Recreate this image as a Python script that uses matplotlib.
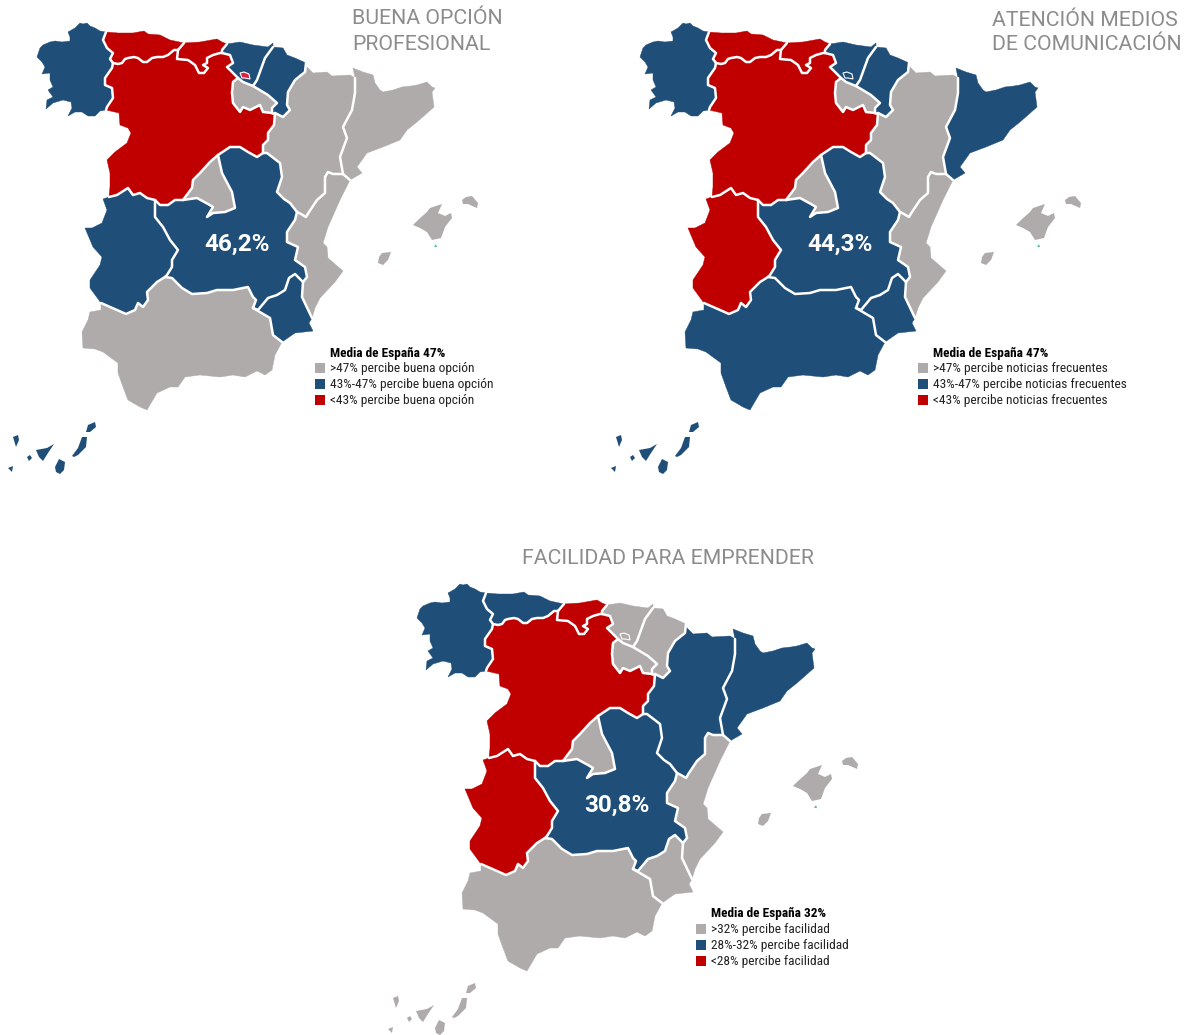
#!/usr/bin/env python3
import matplotlib
matplotlib.use('Agg')
import matplotlib.pyplot as plt
from matplotlib.patches import Polygon, Rectangle

GRAY = '#AFABAB'
BLUE = '#1F4E79'
RED = '#C00000'
COLORS = {'hi': GRAY, 'mid': BLUE, 'lo': RED}

# outlines, shared borders first, in reference pixels of the first map
gal_coast = [(106, 32), (100, 31), (95, 28), (90, 26), (87, 23), (83, 24), (80, 23), (75, 28), (68, 32), (70, 37), (70, 41),
             (62, 42), (55, 41), (50, 42), (43, 45), (40, 48), (37, 57), (42, 62), (45, 67), (42, 74), (50, 73), (50, 80),
             (53, 87), (48, 90), (53, 97), (47, 100), (46, 109), (53, 103), (63, 100), (71, 102), (72, 108), (68, 116),
             (75, 112), (82, 112), (88, 116), (95, 116), (100, 111), (106, 110)]
gal_cyl = [(106, 110), (107, 107), (113, 98), (112, 88), (105, 85), (105, 78), (112, 68), (113, 63)]
gal_ast = [(113, 63), (110, 59), (113, 53), (107, 48), (103, 40), (106, 32)]
ast_coast = [(106, 32), (118, 33), (133, 33), (144, 31), (148, 34), (160, 35), (170, 40), (184, 43)]
ast_cyl = [(113, 63), (118, 64), (122, 63), (125, 59), (128, 58), (134, 57), (138, 58), (143, 62), (147, 62), (152, 58), (157, 57),
           (163, 57), (168, 55), (174, 50), (178, 50)]
ast_cant = [(178, 50), (184, 43)]
cant_coast = [(184, 43), (200, 42), (217, 39), (222, 42), (227, 44)]
cant_pv = [(227, 44), (222, 50), (222, 53)]
cant_cyl = [(178, 50), (177, 59), (188, 60), (195, 65), (199, 73), (204, 73), (208, 68), (203, 65), (207, 63), (207, 58),
            (213, 55), (220, 53), (222, 53)]
pv_cyl = [(222, 53), (230, 55), (233, 63), (227, 67), (232, 72), (238, 78)]
pv_coast = [(227, 44), (240, 42), (253, 45), (268, 47), (273, 43), (273, 47)]
pv_nav = [(273, 47), (265, 58), (257, 80), (253, 86)]
rioja_pv = [(238, 78), (243, 82), (253, 86)]
rioja_nav = [(253, 86), (268, 95), (277, 103), (272, 108), (272, 113)]
rioja_cyl = [(238, 78), (233, 82), (232, 93), (233, 103), (240, 112), (243, 107), (250, 110), (260, 105), (263, 112), (272, 113)]
cyl_nav = [(272, 113), (275, 113)]
nav_coast = [(273, 47), (283, 48), (287, 55), (295, 58), (306, 63)]
nav_ara = [(306, 63), (305, 72), (295, 80), (288, 92), (287, 105), (290, 110), (283, 117), (275, 113)]
ara_north = [(355, 78), (350, 75), (332, 76), (327, 72), (313, 73), (307, 67), (306, 63)]
ara_cyl = [(275, 113), (274, 125), (268, 133), (268, 140), (263, 145), (263, 153)]
ara_clm = [(263, 153), (267, 153), (280, 163), (282, 177), (277, 192), (284, 199), (290, 203), (297, 212)]
ara_val = [(297, 212), (301, 214), (306, 217), (309, 212), (317, 200), (325, 193), (325, 177), (328, 172), (333, 174), (343, 174)]
ara_cat = [(343, 174), (340, 157), (347, 138), (343, 127), (352, 110), (355, 93), (355, 78)]
cat_coast = [(355, 78), (353, 68), (363, 72), (373, 75), (375, 83), (380, 90), (383, 92), (393, 90), (402, 87), (411, 86), (417, 85),
             (427, 82), (432, 87), (435, 88), (432, 92), (434, 107), (425, 115), (417, 122), (407, 130), (400, 140), (383, 147),
             (367, 153), (357, 167), (362, 173), (350, 180)]
cat_val = [(350, 180), (343, 174)]
val_coast = [(350, 180), (340, 200), (328, 227), (323, 243), (327, 247), (328, 258), (343, 271), (335, 282), (320, 298),
             (315, 308), (312, 318)]
val_mur = [(312, 318), (302, 297), (303, 282)]
val_clm = [(297, 212), (295, 220), (287, 232), (287, 242), (298, 247), (295, 260), (305, 267), (307, 277), (303, 282)]
mur_clm = [(303, 282), (295, 274), (289, 278), (285, 290), (277, 295), (268, 298), (258, 310), (253, 308)]
mur_coast = [(282, 342), (295, 333), (313, 331), (309, 323), (312, 318)]
and_mur = [(253, 308), (270, 318), (273, 335), (282, 342)]
and_clm = [(253, 308), (256, 300), (253, 297), (248, 287), (233, 290), (217, 290), (207, 293), (192, 294), (182, 288), (172, 278), (165, 277)]
and_coast = [(282, 342), (275, 355), (272, 370), (265, 375), (257, 371), (245, 377), (233, 375), (220, 377), (200, 375),
             (185, 377), (178, 387), (170, 387), (157, 393), (147, 410), (140, 407), (128, 400), (123, 387), (118, 373),
             (118, 363), (103, 352), (95, 349), (83, 348), (82, 332), (88, 320), (90, 312), (101, 310), (101, 303)]
ext_and = [(165, 277), (157, 282), (147, 292), (148, 300), (143, 307), (138, 303), (135, 310), (126, 314), (117, 310), (101, 303)]
ext_coast = [(101, 303), (90, 288), (90, 280), (100, 265), (102, 257), (93, 247), (85, 228), (92, 228), (102, 223), (107, 210),
             (103, 199), (109, 197)]
ext_cyl = [(109, 197), (117, 195), (128, 188), (133, 195), (140, 193), (147, 198), (155, 200)]
ext_clm = [(155, 200), (155, 217), (163, 227), (170, 240), (178, 250), (172, 260), (172, 267), (167, 275), (165, 277)]
cyl_clm = [(155, 200), (160, 205), (168, 205), (175, 200), (183, 200)]
cyl_mad = [(183, 200), (192, 188), (193, 180), (200, 173), (210, 162), (218, 155)]
cyl_clm2 = [(218, 155), (230, 147), (240, 147), (248, 152), (257, 157), (263, 153)]
mad_clm = [(218, 155), (222, 173), (232, 192), (235, 208), (225, 212), (213, 213), (207, 217), (213, 207), (208, 204), (197, 198), (183, 200)]
cyl_port = [(109, 197), (110, 187), (110, 173), (107, 160), (115, 152), (127, 143), (131, 133), (128, 128), (120, 125), (119, 113), (106, 110)]

borders = [gal_cyl, gal_ast, ast_cyl, ast_cant, cant_pv, cant_cyl, pv_cyl, pv_nav, rioja_pv, rioja_nav, rioja_cyl, cyl_nav,
           nav_ara, ara_cyl, ara_clm, ara_val, ara_cat, cat_val, val_mur, val_clm, mur_clm, and_mur, and_clm, ext_and,
           ext_cyl, ext_clm, cyl_clm, cyl_mad, cyl_clm2, mad_clm]

mallorca = [(413, 225), (418, 220), (427, 212), (430, 208), (442, 204), (438, 213), (445, 216), (451, 213), (452, 218), (445, 227),
            (441, 238), (432, 240), (427, 232), (420, 228)]
menorca = [(462, 200), (466, 197), (472, 196), (478, 203), (477, 208), (468, 204), (463, 204)]
ibiza = [(378, 263), (379, 257), (382, 253), (391, 252), (388, 260), (383, 265)]
formentera = [(434, 247), (436, 244), (437, 247)]
lanzarote = [(86, 432), (88, 425), (95, 422), (96, 427), (90, 432)]
fuerteventura = [(72, 456), (78, 448), (82, 437), (87, 437), (86, 447), (78, 455), (74, 457)]
gran_canaria = [(55, 467), (59, 459), (65, 462), (64, 470), (60, 474), (56, 472)]
tenerife = [(36, 450), (47, 448), (54, 444), (48, 453), (43, 461), (39, 457)]
gomera = [(27, 457), (30, 455), (32, 458), (29, 461)]
la_palma = [(13, 437), (18, 435), (19, 440), (16, 447)]
hierro = [(8, 468), (13, 466), (12, 472)]
trevino = [(240, 73), (244, 72), (249, 74), (250, 79), (245, 78), (242, 78)]

# region name -> arcs that close its outline
regions = {
    'galicia': [gal_coast, gal_cyl, gal_ast],
    'asturias': [ast_coast, ast_cant, ast_cyl, gal_ast],
    'cantabria': [cant_coast, cant_pv, cant_cyl, ast_cant],
    'pais_vasco': [pv_coast, pv_nav, rioja_pv, pv_cyl, cant_pv],
    'navarra': [nav_coast, nav_ara, cyl_nav, rioja_nav, pv_nav],
    'rioja': [rioja_pv, rioja_nav, rioja_cyl],
    'aragon': [ara_north, nav_ara, ara_cyl, ara_clm, ara_val, ara_cat],
    'cataluna': [cat_coast, cat_val, ara_cat],
    'valencia': [val_coast, val_mur, val_clm, ara_val, cat_val],
    'murcia': [mur_coast, val_mur, mur_clm, and_mur],
    'andalucia': [and_mur, and_coast, ext_and, and_clm],
    'extremadura': [ext_coast, ext_cyl, ext_clm, ext_and],
    'madrid': [mad_clm, cyl_mad],
    'clm': [cyl_clm, mad_clm, cyl_clm2, ara_clm, val_clm, mur_clm, and_clm, ext_clm],
    'cyl': [cyl_port, gal_cyl, ast_cyl, cant_cyl, pv_cyl, rioja_cyl, cyl_nav, ara_cyl, cyl_clm2, cyl_mad, cyl_clm, ext_cyl],
}
baleares = [mallorca, menorca, ibiza]
canarias = [lanzarote, fuerteventura, gran_canaria, tenerife, gomera, la_palma, hierro]

# group of each region in the three maps
buena_opcion = {'galicia': 'mid', 'asturias': 'lo', 'cantabria': 'lo', 'pais_vasco': 'mid', 'navarra': 'mid', 'rioja': 'hi',
                'aragon': 'hi', 'cataluna': 'hi', 'valencia': 'hi', 'murcia': 'mid', 'andalucia': 'hi', 'extremadura': 'mid',
                'madrid': 'hi', 'clm': 'mid', 'cyl': 'lo', 'baleares': 'hi', 'canarias': 'mid'}
noticias = {'galicia': 'mid', 'asturias': 'lo', 'cantabria': 'lo', 'pais_vasco': 'mid', 'navarra': 'mid', 'rioja': 'hi',
            'aragon': 'hi', 'cataluna': 'mid', 'valencia': 'hi', 'murcia': 'mid', 'andalucia': 'mid', 'extremadura': 'lo',
            'madrid': 'hi', 'clm': 'mid', 'cyl': 'lo', 'baleares': 'hi', 'canarias': 'mid'}
facilidad = {'galicia': 'mid', 'asturias': 'mid', 'cantabria': 'lo', 'pais_vasco': 'hi', 'navarra': 'hi', 'rioja': 'hi',
             'aragon': 'mid', 'cataluna': 'mid', 'valencia': 'hi', 'murcia': 'hi', 'andalucia': 'hi', 'extremadura': 'lo',
             'madrid': 'hi', 'clm': 'mid', 'cyl': 'lo', 'baleares': 'hi', 'canarias': 'hi'}

map_groups = [buena_opcion, noticias, facilidad]
map_shift = [(0, 0), (603, 0), (380, 561)]
map_values = ['46,2%', '44,3%', '30,8%']
legend_titles = ['Media de España 47%', 'Media de España 47%', 'Media de España 32%']
legend_labels = [['>47% percibe buena opción', '43%-47% percibe buena opción', '<43% percibe buena opción'],
                 ['>47% percibe noticias frecuentes', '43%-47% percibe noticias frecuentes', '<43% percibe noticias frecuentes'],
                 ['>32% percibe facilidad', '28%-32% percibe facilidad', '<28% percibe facilidad']]
legend_shift = [(0, 0), (603, 0), (381, 561)]
trevino_colors = ['#DC2040', BLUE, GRAY]


def ring(arcs):
    '''Joins arcs end to end, turning an arc round when needed.'''
    pts = list(arcs[0])
    if pts[-1] not in (arcs[1][0], arcs[1][-1]):
        pts.reverse()
    for arc in arcs[1:]:
        pts += list(arc) if arc[0] == pts[-1] else list(arc[::-1])
    return pts


def moved(pts, shift):
    return [(x + shift[0], y + shift[1]) for x, y in pts]


def draw_map(ax, n):
    groups = map_groups[n]
    shift = map_shift[n]
    for name, arcs in regions.items():
        ax.add_patch(Polygon(moved(ring(arcs), shift), closed=True, fc=COLORS[groups[name]], ec=COLORS[groups[name]], lw=0.3))
    for shape in baleares:
        ax.add_patch(Polygon(moved(shape, shift), closed=True, fc=COLORS[groups['baleares']], ec='none'))
    ax.add_patch(Polygon(moved(formentera, shift), closed=True, fc='#4FBFA5', ec='none'))
    for shape in canarias:
        ax.add_patch(Polygon(moved(shape, shift), closed=True, fc=COLORS[groups['canarias']], ec='none'))
    for arc in borders:
        x, y = zip(*moved(arc, shift))
        ax.plot(x, y, color='white', lw=1.8, solid_joinstyle='round', solid_capstyle='round')
    ax.add_patch(Polygon(moved(trevino, shift), closed=True, fc=trevino_colors[n], ec='white', lw=0.8))
    ax.text(237 + shift[0], 244 + shift[1], map_values[n], color='white', fontsize=17.5, fontweight='bold', family='Roboto',
            ha='center', va='center')


def draw_legend(ax, n):
    sx, sy = legend_shift[n]
    ax.text(330 + sx, 353 + sy, legend_titles[n], fontsize=9.6, fontweight='bold', family='Roboto Condensed', va='center')
    for i, key in enumerate(['hi', 'mid', 'lo']):
        y = 368 + 16 * i + sy
        ax.add_patch(Rectangle((315 + sx, y - 5), 10, 10, fc=COLORS[key], ec='none'))
        ax.text(330 + sx, y + 0.5, legend_labels[n][i], fontsize=9.6, color='#222222', family='Roboto Condensed', va='center')


fig = plt.figure(figsize=(11.9, 10.35), dpi=100)
ax = fig.add_axes([0, 0, 1, 1])
ax.set_xlim(0, 1190)
ax.set_ylim(1035, 0)
ax.axis('off')

for n in range(3):
    draw_map(ax, n)
    draw_legend(ax, n)

title_style = dict(fontsize=15.3, color='#8C8C8C', family='Roboto', va='center')
ax.text(352, 19, 'BUENA OPCIÓN', **title_style)
ax.text(352, 45, 'PROFESIONAL', **title_style)
ax.text(992, 21, 'ATENCIÓN MEDIOS', **title_style)
ax.text(992, 45, 'DE COMUNICACIÓN', **title_style)
ax.text(668, 559, 'FACILIDAD PARA EMPRENDER', ha='center', **title_style)

fig.savefig('out.png', dpi=100)
